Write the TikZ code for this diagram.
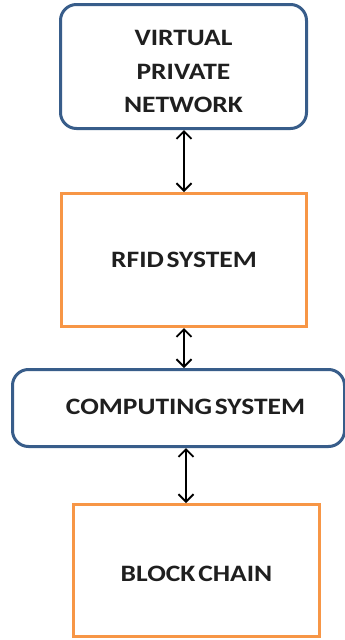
\documentclass[tikz,border=0pt]{standalone}
\usepackage{fontspec}
\setmainfont{Carlito}
\newfontfamily\boxfont[FakeStretch=1.17, WordSpace=0.45]{Carlito}
\usetikzlibrary{arrows.meta,calc}
\definecolor{boxblue}{HTML}{385D8A}
\definecolor{boxorange}{HTML}{F79646}
\tikzset{
  x=1pt, y=-1pt,
  label text/.style={font=\boxfont\bfseries\fontsize{23.5}{33.5}\selectfont, align=center, text=black!88},
  roundbox/.style={draw=boxblue, line width=3pt, rounded corners=16pt, fill=white},
  squarebox/.style={draw=boxorange, line width=3pt, fill=white},
  link/.style={line width=1.9pt, {Straight Barb[length=7.5pt,width=15pt,line width=1.9pt]}-{Straight Barb[length=7.5pt,width=15pt,line width=1.9pt]}}
}
\begin{document}
\begin{tikzpicture}
\useasboundingbox (0,0) rectangle (345,640);
\node[roundbox, minimum width=246pt, minimum height=124pt, anchor=north west] (vpn) at (59,3) {};
\node[label text] at ($(vpn.center)+(0,5)$) {VIRTUAL\\PRIVATE\\NETWORK};
\node[squarebox, minimum width=245pt, minimum height=133pt, anchor=north west] (rfid) at (60,192) {};
\node[label text] at (rfid.center) {RFID SYSTEM};
\node[roundbox, minimum width=332pt, minimum height=77pt, anchor=north west] (cs) at (11,368) {};
\node[label text] at ($(cs.center)+(7,-1)$) {COMPUTING SYSTEM};
\node[squarebox, minimum width=246pt, minimum height=132pt, anchor=north west] (block) at (72,503) {};
\node[label text] at ($(block.center)+(0,3)$) {BLOCK CHAIN};
\draw[link] (vpn.south -| rfid.north) -- (rfid.north);
\draw[link] (rfid.south) -- (rfid.south |- cs.north);
\coordinate (c3) at ($(rfid.south)+(2,0)$);
\draw[link] (cs.south -| c3) -- (block.north -| c3);
\end{tikzpicture}
\end{document}
